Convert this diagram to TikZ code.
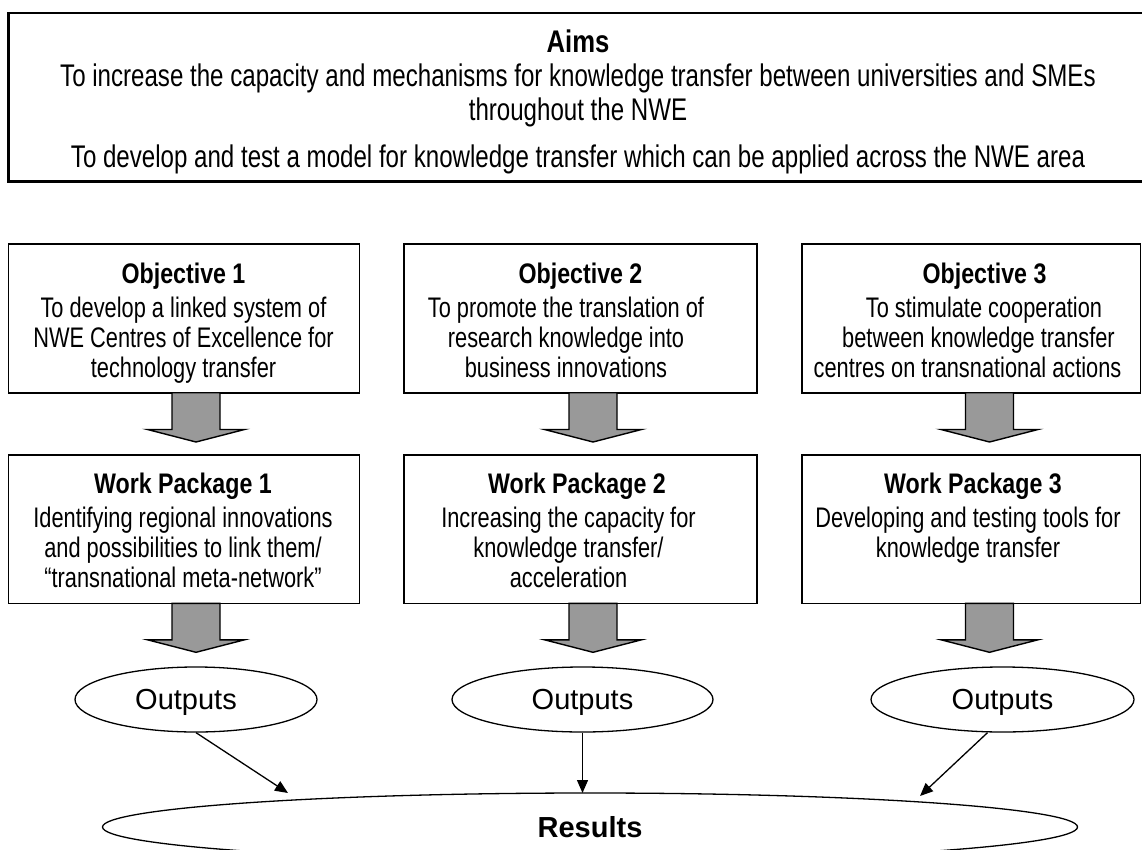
\documentclass[tikz,border=0pt]{standalone}
\usepackage{fontspec}
\setmainfont{Liberation Sans}
\newfontfamily\narrowfont[FakeStretch=0.77]{Liberation Sans}
\newfontfamily\titlefont[FakeStretch=0.82]{Liberation Sans Bold}
\usetikzlibrary{arrows.meta,calc,shapes.geometric}
\definecolor{arrowgray}{RGB}{153,153,153}
\newcommand\boxfont{\narrowfont\fontsize{28.3pt}{30pt}\selectfont}
\newcommand\aimsfont{\narrowfont\fontsize{31.3pt}{34pt}\selectfont}
\newcommand{\fatarrow}[2]{%
  \draw[fatarr] ($(#1)+(-24,0)$) -- ($(#2)+(-24,-12.5)$) -- ($(#2)+(-48.5,-12.5)$)
    -- (#2) -- ($(#2)+(48.5,-12.5)$) -- ($(#2)+(24,-12.5)$) -- ($(#1)+(24,0)$) -- cycle;}
\begin{document}
\begin{tikzpicture}[x=1pt,y=-1pt,
  box/.style={draw, line width=1.6pt, fill=white, inner sep=0pt, outer sep=0pt},
  boxtext/.style={anchor=base, inner sep=0pt},
  fatarr/.style={draw, line width=1.4pt, fill=arrowgray, line join=miter},
  outell/.style={ellipse, draw, line width=1.3pt, inner sep=0pt, minimum height=65pt,
    text depth=0pt, font=\fontsize{29pt}{34pt}\selectfont},
  conn/.style={line width=1.3pt, -{Triangle[length=13pt,width=11pt]}}
]
\useasboundingbox (0,0) rectangle (1142,850);

% Aims
\node[box, line width=2.4pt, minimum width=1150pt, minimum height=168.5pt, anchor=north west] (aims) at (8.5,13) {};
\node[boxtext] (aimstxt) at (578,53) {\parbox[t]{1120pt}{\centering\aimsfont
  {\titlefont Aims}\\
  To increase the capacity and mechanisms for knowledge transfer between universities and SMEs\\
  throughout the NWE\\[13pt]
  To develop and test a model for knowledge transfer which can be applied across the NWE area}};

% Objective boxes
\node[box, minimum width=351pt, minimum height=148.4pt] (ob1) at (183.8,318.5) {};
\node[box, minimum width=353pt, minimum height=148.4pt] (ob2) at (580.2,318.5) {};
\node[box, minimum width=338.8pt, minimum height=148.4pt] (ob3) at (971.1,318.5) {};

\node[boxtext] (ob1t) at (183.5,283.3) {\parbox[t]{360pt}{\centering\boxfont
  {\titlefont Objective 1}\\[4pt]
  To develop a linked system of\\
  NWE Centres of Excellence for\\
  technology transfer}};
\node[boxtext] (ob2t) at (566,283.3) {\parbox[t]{360pt}{\centering\boxfont
  {\titlefont\hspace*{29pt}Objective 2}\\[4pt]
  To promote the translation of\\
  research knowledge into\\
  business innovations}};
\node[boxtext] (ob3t) at (967.5,283.3) {\parbox[t]{360pt}{\centering\boxfont
  {\titlefont\hspace*{34pt}Objective 3}\\[4pt]
  \hspace*{33pt}To stimulate cooperation\\
  \hspace*{22pt}between knowledge transfer\\
  centres on transnational actions}};

% Work package boxes
\node[box, minimum width=351pt, minimum height=148.3pt] (wp1) at (183.8,529.2) {};
\node[box, minimum width=353pt, minimum height=148.3pt] (wp2) at (580.2,529.2) {};
\node[box, minimum width=338.8pt, minimum height=148.3pt] (wp3) at (971.1,529.2) {};

\node[boxtext] (wp1t) at (183,493.3) {\parbox[t]{360pt}{\centering\boxfont
  {\titlefont Work Package 1}\\[4pt]
  Identifying regional innovations\\
  and possibilities to link them/\\
  “transnational meta-network”}};
\node[boxtext] (wp2t) at (568.5,493.3) {\parbox[t]{360pt}{\centering\boxfont
  {\titlefont\hspace*{17pt}Work Package 2}\\[4pt]
  Increasing the capacity for\\
  knowledge transfer/\\
  acceleration}};
\node[boxtext] (wp3t) at (968,493.3) {\parbox[t]{360pt}{\centering\boxfont
  {\titlefont\hspace*{10pt}Work Package 3}\\[4pt]
  Developing and testing tools for\\
  knowledge transfer}};

% fat arrows
\coordinate (a1s) at (196,392.7);   \coordinate (a1e) at (196,442);
\coordinate (a2s) at (593,392.7);   \coordinate (a2e) at (593,442);
\coordinate (a3s) at (989.5,392.7); \coordinate (a3e) at (989.5,442);
\coordinate (b1s) at (196,603.3);   \coordinate (b1e) at (196,652.3);
\coordinate (b2s) at (593,603.3);   \coordinate (b2e) at (593,652.3);
\coordinate (b3s) at (989.5,603.3); \coordinate (b3e) at (989.5,652.3);
\fatarrow{a1s}{a1e}
\fatarrow{a2s}{a2e}
\fatarrow{a3s}{a3e}
\fatarrow{b1s}{b1e}
\fatarrow{b2s}{b2e}
\fatarrow{b3s}{b3e}

% outputs
\node[outell, minimum width=242pt] (out1) at (196,699.5) {\hspace*{-20pt}Outputs};
\node[outell, minimum width=261pt] (out2) at (582.5,699.5) {Outputs};
\node[outell, minimum width=263pt] (out3) at (1002.5,699.5) {Outputs};

% results
\node[ellipse, draw, line width=1.3pt, inner sep=0pt, minimum width=975pt, minimum height=68pt,
  text depth=0pt, font=\fontsize{29pt}{34pt}\selectfont\bfseries] (res) at (590,827) {Results};

\coordinate (r1) at (288,793);
\coordinate (r2) at (582.5,793);
\coordinate (r3) at (920,796);
\draw[conn] (out1.south) -- (r1);
\draw[conn] (out2.south) -- (r2);
\draw[conn] ($(out3.south)+(-15,0)$) -- (r3);
\end{tikzpicture}
\end{document}
